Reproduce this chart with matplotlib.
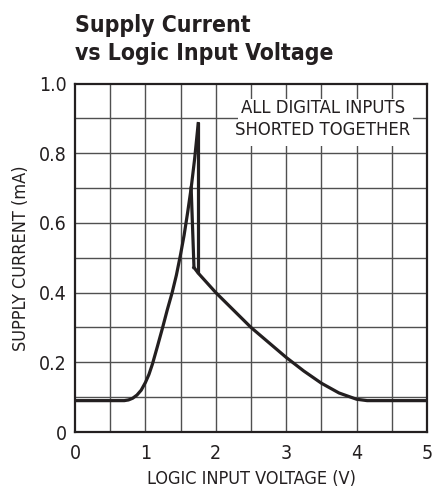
import matplotlib
matplotlib.use("Agg")
import matplotlib.pyplot as plt
from matplotlib import font_manager
from matplotlib.patches import Rectangle

# ---- data ----
rise_v = [0.0, 0.70, 0.76, 0.82, 0.88, 0.94, 1.00, 1.05, 1.10, 1.17, 1.245, 1.31, 1.38,
          1.44, 1.50, 1.55, 1.60, 1.65, 1.70, 1.75]
rise_i = [0.09, 0.09, 0.092, 0.097, 0.106, 0.12, 0.142, 0.165, 0.195, 0.245, 0.30, 0.35, 0.40,
          0.45, 0.51, 0.565, 0.63, 0.70, 0.785, 0.885]
drop_v = [1.75, 1.75]
drop_i = [0.885, 0.458]
branch_v = [1.65, 1.69]
branch_i = [0.70, 0.472]
fall_v = [1.69, 1.75, 2.00, 2.50, 3.00, 3.25, 3.50, 3.75, 4.00, 4.15, 5.0]
fall_i = [0.472, 0.456, 0.40, 0.30, 0.214, 0.175, 0.14, 0.112, 0.094, 0.09, 0.09]

x_ticks = [0, 1, 2, 3, 4, 5]
x_tick_labels = ["0", "1", "2", "3", "4", "5"]
y_ticks = [0, 0.2, 0.4, 0.6, 0.8, 1.0]
y_tick_labels = ["0", "0.2", "0.4", "0.6", "0.8", "1.0"]

title_lines = ["Supply Current", "vs Logic Input Voltage"]
xlabel = "LOGIC INPUT VOLTAGE (V)"
ylabel = "SUPPLY CURRENT (mA)"
note_lines = ["ALL DIGITAL INPUTS", "SHORTED TOGETHER"]

# find a condensed / narrow sans font if present
reg_file = None
bold_file = None
for f in font_manager.fontManager.ttflist:
    p = f.fname.lower()
    if ("condensed" in p or "narrow" in p or f.stretch in ("condensed", "semi-condensed")) and "mono" not in p and "serif" not in f.name.lower():
        if f.weight in (400, "normal", "regular") and f.style == "normal" and reg_file is None:
            reg_file = f.fname
        if (f.weight in (700, "bold")) and f.style == "normal" and bold_file is None:
            bold_file = f.fname

if reg_file:
    fp = font_manager.FontProperties(fname=reg_file)
    scale = 1.0
else:
    fp = font_manager.FontProperties(family="Roboto")
    scale = 0.88
if bold_file:
    fpb = font_manager.FontProperties(fname=bold_file)
    bscale = 1.0
else:
    fpb = font_manager.FontProperties(family="Roboto", weight="bold")
    bscale = 0.85

def P(size, base=fp, s=None):
    q = base.copy()
    q.set_size(size * (scale if s is None else s))
    return q

TXT = "#231f20"
fig = plt.figure(figsize=(4.32, 4.90), dpi=100)
ax = fig.add_axes([75/432, 58/490, 352/432, (432-83.5)/490])

ax.set_xlim(0, 5)
ax.set_ylim(0, 1.0)

gc = "#505050"
for gx in [0.5 * k for k in range(1, 10)]:
    ax.axvline(gx, color=gc, lw=1.0, zorder=1)
for gy in [0.1 * k for k in range(1, 10)]:
    ax.axhline(gy, color=gc, lw=1.0, zorder=1)

lc = "#231f20"
lw = 2.3
ax.plot(rise_v, rise_i, color=lc, lw=lw, zorder=3, solid_joinstyle="round")
ax.plot(drop_v, drop_i, color=lc, lw=lw, zorder=3)
ax.plot(branch_v, branch_i, color=lc, lw=lw, zorder=3)
ax.plot(fall_v, fall_i, color=lc, lw=lw, zorder=3, solid_joinstyle="round")

# white label box over grid
ax.add_patch(Rectangle((2.31, 0.82), 2.49, 0.135, facecolor="white",
                       edgecolor="none", zorder=2))
ax.text(3.52, 0.931, note_lines[0], ha="center", va="center", color=TXT,
        fontproperties=P(13.2), zorder=4)
ax.text(3.52, 0.866, note_lines[1], ha="center", va="center", color=TXT,
        fontproperties=P(13.2), zorder=4)

for s in ax.spines.values():
    s.set_color(lc)
    s.set_linewidth(1.6)
    s.set_zorder(5)

ax.set_xticks(x_ticks)
ax.set_yticks(y_ticks)
ax.set_xticklabels(x_tick_labels, fontproperties=P(14))
ax.set_yticklabels(y_tick_labels, fontproperties=P(14))
ax.tick_params(length=0, colors=TXT)
ax.tick_params(axis="x", pad=8.5)
ax.tick_params(axis="y", pad=6)

ax.set_xlabel(xlabel, fontproperties=P(13), color=TXT, labelpad=5)
ax.set_ylabel(ylabel, fontproperties=P(13), color=TXT, labelpad=6)

fig.text(75/432, 1 - 32/490, title_lines[0], ha="left", va="baseline",
         fontproperties=P(16.5, fpb, bscale), color=TXT)
fig.text(75/432, 1 - 60/490, title_lines[1], ha="left", va="baseline",
         fontproperties=P(16.5, fpb, bscale), color=TXT)

fig.savefig("out.png", dpi=100)
